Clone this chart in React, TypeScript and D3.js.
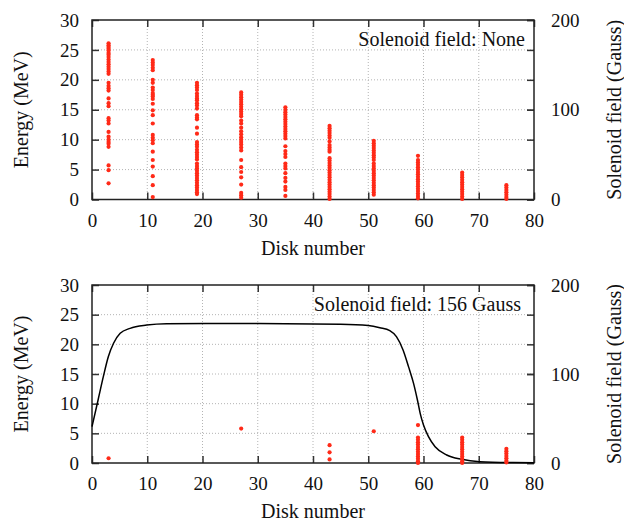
import { useEffect, useRef } from 'react';
import * as d3 from 'd3';

// disk positions of the detector columns
const diskNumbers = [3, 11, 19, 27, 35, 43, 51, 59, 67, 75];

// energies (MeV) recorded per disk, no solenoid field
const noField3 = [26.1, 25.8, 25.5, 25.2, 24.9, 24.5, 24.2, 23.8, 23.4, 23.0, 22.6, 22.2, 21.8, 21.4, 21.0, 19.5, 19.0, 18.6, 18.2, 16.9, 16.1, 15.6, 13.6, 13.2, 12.7, 11.3, 10.5, 10.0, 9.6, 9.3, 8.8, 5.7, 4.9, 2.7];
const noField11 = [23.3, 22.9, 22.5, 22.0, 21.6, 20.0, 19.5, 18.7, 18.3, 17.8, 17.5, 17.2, 16.8, 16.0, 14.9, 14.1, 12.7, 10.8, 10.3, 9.9, 9.4, 8.0, 6.6, 5.5, 3.9, 2.4, 0.4];
const noField19 = [19.5, 19.1, 18.7, 18.3, 17.7, 17.3, 16.9, 16.6, 16.1, 15.7, 15.2, 14.1, 13.7, 13.4, 12.0, 11.0, 9.6, 9.2, 8.8, 8.3, 7.9, 7.5, 7.1, 6.7, 6.0, 5.6, 5.2, 4.8, 4.4, 4.0, 3.6, 3.2, 2.8, 2.4, 2.0, 1.6, 1.2, 0.9];
const noField27 = [17.9, 17.5, 17.1, 16.7, 16.3, 15.9, 15.5, 15.1, 14.7, 14.3, 13.9, 13.2, 12.7, 12.0, 11.4, 10.9, 10.4, 10.0, 9.6, 9.2, 8.7, 8.2, 6.6, 5.4, 4.6, 3.7, 2.5, 1.1, 0.7, 0.3];
const noField35 = [15.4, 15.0, 14.6, 14.2, 13.8, 13.4, 13.0, 12.6, 12.2, 11.8, 11.4, 11.0, 10.6, 10.2, 8.9, 8.1, 7.6, 7.1, 6.0, 5.6, 5.2, 4.4, 3.6, 3.0, 2.1, 1.6, 0.6];
const noField43 = [12.3, 11.9, 11.5, 11.1, 10.7, 10.3, 9.7, 9.1, 8.7, 8.3, 8.0, 6.9, 6.5, 6.1, 5.7, 5.3, 4.9, 4.5, 4.1, 3.7, 3.3, 2.9, 2.5, 2.1, 1.7, 1.3, 0.9, 0.5, 0.1];
const noField51 = [9.8, 9.4, 9.0, 8.6, 8.2, 7.8, 7.4, 7.0, 6.6, 6.0, 5.6, 5.2, 4.8, 4.4, 4.0, 3.6, 3.2, 2.8, 2.4, 2.0, 1.6, 1.2, 0.8];
const noField59 = [7.3, 6.6, 6.2, 5.8, 5.4, 5.0, 4.6, 4.2, 3.8, 3.4, 3.0, 2.6, 2.2, 1.8, 1.4, 1.0, 0.6, 0.2];
const noField67 = [4.5, 4.1, 3.7, 3.3, 2.9, 2.5, 2.1, 1.7, 1.3, 0.9, 0.5, 0.1];
const noField75 = [2.4, 2.0, 1.6, 1.2, 0.8, 0.4, 0.1];

// energies (MeV) per disk with the 156 Gauss solenoid on
const field3 = [0.8];
const field11: number[] = [];
const field19: number[] = [];
const field27 = [5.8];
const field35: number[] = [];
const field43 = [3.0, 1.8, 0.6];
const field51 = [5.35];
const field59 = [6.4, 4.3, 3.9, 3.5, 3.1, 2.7, 2.3, 1.9, 1.5, 1.1, 0.7, 0.3, 0.0];
const field67 = [4.3, 3.9, 3.5, 3.1, 2.7, 2.3, 1.9, 1.5, 1.1, 0.7, 0.3, 0.0];
const field75 = [2.4, 2.0, 1.6, 1.2, 0.8, 0.4, 0.1];

// solenoid field profile (Gauss) along the disk axis
const profileDisk = [0, 1.1, 2.05, 2.95, 3.9, 5.1, 6.9, 9.9, 13.5, 30, 45, 50, 52.1, 53.9, 55.1, 56.3, 57.3, 58.2, 58.9, 59.4, 60.0, 60.9, 62.1, 64.2, 66.9, 70.2, 76.2, 80];
const profileGauss = [40.8, 70.8, 97, 119.4, 134.5, 145.7, 151.3, 155, 156.6, 156.8, 156, 154.5, 152, 148.7, 142, 127, 108, 89.5, 70.8, 55.8, 42.7, 29.6, 18.3, 9, 4.1, 1.5, 0.5, 0.3];

const xTicks = [0, 10, 20, 30, 40, 50, 60, 70, 80];
const yTicks = [0, 5, 10, 15, 20, 25, 30];
const y2Ticks = [0, 100, 200];

const FONT = "'Liberation Serif', 'Times New Roman', Times, serif";
const RED = '#ff2a18';
const X0 = 92, X1 = 534;

type Svg = d3.Selection<SVGSVGElement, unknown, null, undefined>;

function drawPanel(
  svg: Svg,
  top: number,
  bottom: number,
  columns: number[][],
  note: string,
  noteX: number,
  withProfile: boolean,
) {
  const x = d3.scaleLinear().domain([0, 80]).range([X0, X1]);
  const y = d3.scaleLinear().domain([0, 30]).range([bottom, top]);
  const y2 = d3.scaleLinear().domain([0, 200]).range([bottom, top]);
  const g = svg.append('g');

  // dotted grid
  xTicks.slice(1, -1).forEach(v => {
    g.append('line')
      .attr('x1', x(v)).attr('x2', x(v)).attr('y1', top).attr('y2', bottom)
      .attr('stroke', '#b4b4b4').attr('stroke-width', 1).attr('stroke-dasharray', '1,2');
  });
  yTicks.slice(1, -1).forEach(v => {
    g.append('line')
      .attr('x1', X0).attr('x2', X1).attr('y1', y(v)).attr('y2', y(v))
      .attr('stroke', '#b4b4b4').attr('stroke-width', 1).attr('stroke-dasharray', '1,2');
  });

  const style = (ax: d3.Selection<SVGGElement, unknown, null, undefined>) => {
    ax.select('.domain').remove();
    ax.selectAll('line').attr('stroke', '#333').attr('stroke-width', 1.5);
    ax.selectAll('text').attr('font-family', FONT).attr('font-size', 19).attr('fill', '#111');
    ax.attr('font-family', null).attr('font-size', null);
  };

  g.append('g').attr('transform', `translate(${X0},0)`)
    .call(d3.axisLeft(y).tickValues(yTicks).tickSize(-7).tickSizeOuter(0).tickPadding(13))
    .call(style);
  g.append('g').attr('transform', `translate(0,${bottom})`)
    .call(d3.axisBottom(x).tickValues(xTicks).tickSize(-7).tickSizeOuter(0).tickPadding(14))
    .call(style);
  g.append('g').attr('transform', `translate(0,${top})`)
    .call(d3.axisTop(x).tickValues(xTicks).tickSize(-7).tickSizeOuter(0).tickFormat(() => ''))
    .call(style);
  g.append('g').attr('transform', `translate(${X1},0)`)
    .call(d3.axisRight(y).tickValues(yTicks).tickSize(-7).tickSizeOuter(0).tickFormat(() => ''))
    .call(style);
  g.append('g').attr('transform', `translate(${X1},0)`)
    .call(d3.axisRight(y2).tickValues(y2Ticks).tickSize(-7).tickSizeOuter(0).tickPadding(17))
    .call(style);

  // frame
  g.append('rect')
    .attr('x', X0).attr('y', top).attr('width', X1 - X0).attr('height', bottom - top)
    .attr('fill', 'none').attr('stroke', '#222').attr('stroke-width', 1.5);

  // field profile
  if (withProfile) {
    const line = d3.line<number>()
      .x((_, i) => x(profileDisk[i]))
      .y(d => y2(d))
      .curve(d3.curveMonotoneX);
    g.append('path')
      .datum(profileGauss)
      .attr('d', line)
      .attr('fill', 'none').attr('stroke', '#000').attr('stroke-width', 1.5);
  }

  // energy points
  columns.forEach((energies, i) => {
    energies.forEach(e => {
      g.append('circle')
        .attr('cx', x(diskNumbers[i])).attr('cy', y(e)).attr('r', 2.1)
        .attr('fill', RED);
    });
  });

  // annotation
  g.append('text')
    .attr('x', noteX).attr('y', top + 25.5)
    .attr('text-anchor', 'end')
    .attr('font-family', FONT).attr('font-size', 20).attr('fill', '#111')
    .text(note);

  // axis titles
  g.append('text')
    .attr('x', (X0 + X1) / 2).attr('y', bottom + 55)
    .attr('text-anchor', 'middle')
    .attr('font-family', FONT).attr('font-size', 20).attr('fill', '#111')
    .text('Disk number');
  g.append('text')
    .attr('transform', `translate(28,${(top + bottom) / 2}) rotate(-90)`)
    .attr('text-anchor', 'middle')
    .attr('font-family', FONT).attr('font-size', 20).attr('fill', '#111')
    .text('Energy (MeV)');
  g.append('text')
    .attr('transform', `translate(621,${(top + bottom) / 2}) rotate(-90)`)
    .attr('text-anchor', 'middle')
    .attr('font-family', FONT).attr('font-size', 20).attr('fill', '#111')
    .text('Solenoid field (Gauss)');
}

export default function App() {
  const svgRef = useRef<SVGSVGElement>(null);

  useEffect(() => {
    const svg = d3.select(svgRef.current as SVGSVGElement);
    svg.selectAll('*').remove();

    drawPanel(svg, 20, 199.5,
      [noField3, noField11, noField19, noField27, noField35, noField43, noField51, noField59, noField67, noField75],
      'Solenoid field: None', 525, false);
    drawPanel(svg, 285, 463,
      [field3, field11, field19, field27, field35, field43, field51, field59, field67, field75],
      'Solenoid field: 156 Gauss', 521, true);
  }, []);

  return (
    <svg
      ref={svgRef}
      width={624}
      height={522}
      viewBox="0 0 624 522"
      style={{ position: 'absolute', left: 0, top: 0, background: '#fff' }}
    />
  );
}
